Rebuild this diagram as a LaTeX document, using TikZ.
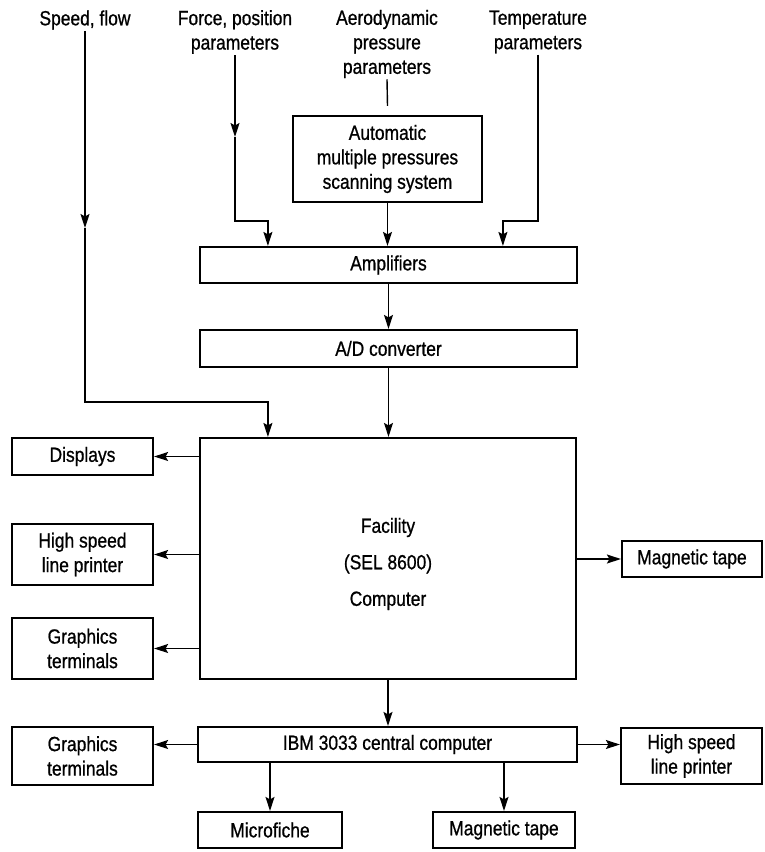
\documentclass[tikz,border=0pt]{standalone}
\usepackage{fontspec}
\setmainfont{Liberation Sans}[FakeStretch=0.85,FakeBold=0.8]
\usetikzlibrary{arrows.meta,calc}
\begin{document}
\begin{tikzpicture}[x=1pt,y=-1pt,
  txt/.style={font=\fontsize{20.5}{24.5}\selectfont},
  box/.style={txt,draw,line width=2.2pt,inner sep=0pt,align=center},
  lbl/.style={txt,inner sep=1pt,align=center},
  conn/.style={line width=1.4pt},
  arr/.style={conn,-{Stealth[length=14pt,width=9pt,inset=2.5pt]}}]
\useasboundingbox (0,0) rectangle (764,852);
\fill[white] (0,0) rectangle (764,852);

% input labels
\node[lbl] (sf) at (85,20) {Speed, flow};
\node[lbl] (fp) at (235,32) {Force, position\\parameters};
\node[lbl] (ap) at (387,44) {Aerodynamic\\pressure\\parameters};
\node[lbl] (tp) at (538,32) {Temperature\\parameters};

% boxes
\node[box,minimum width=189pt,minimum height=86pt] (auto) at (387.5,159) {Automatic\\multiple pressures\\scanning system};
\node[box,minimum width=377pt,minimum height=36pt] (amp) at (388.5,265) {Amplifiers};
\node[box,minimum width=377pt,minimum height=37pt] (ad) at (388.5,348.5) {A/D converter};
\node[box,minimum width=376pt,minimum height=241pt] (fac) at (388,558.5) {};
\node[lbl] (factext) at (388,564) {Facility\\[12pt](SEL 8600)\\[12pt]Computer};
\node[box,minimum width=141pt,minimum height=37pt] (disp) at (82.5,456.5) {Displays};
\node[box,minimum width=141pt,minimum height=61pt] (hsp1) at (82.5,554.5) {High speed\\line printer};
\node[box,minimum width=141pt,minimum height=61pt] (gt1) at (82.5,648.5) {Graphics\\terminals};
\node[box,minimum width=140pt,minimum height=36pt] (mt1) at (692,559) {Magnetic tape};
\node[box,minimum width=379pt,minimum height=35pt] (ibm) at (387.5,744.5) {IBM 3033 central computer};
\node[box,minimum width=141pt,minimum height=58pt] (gt2) at (82.5,756) {Graphics\\terminals};
\node[box,minimum width=141pt,minimum height=56pt] (hsp2) at (691.5,756) {High speed\\line printer};
\node[box,minimum width=144pt,minimum height=36pt] (mic) at (270,830) {Microfiche};
\node[box,minimum width=142pt,minimum height=36pt] (mt2) at (504,830) {Magnetic tape};

% input connectors
\coordinate (sfm) at (85,228);
\coordinate (sft) at (85,402);
\draw[arr] (sf.south) -- (sfm);
\draw[arr] (sfm) -- (sft) -| ($(fac.north west)+(69,0)$);

\coordinate (fpm) at (235,137);
\coordinate (fpt) at (235,221);
\draw[arr] (fp.south) -- (fpm);
\draw[arr] (fpm) -- (fpt) -| ($(amp.north west)+(69,0)$);

\coordinate (tpt) at (538,221);
\draw[arr] (tp.south) -- (tpt) -| ($(amp.north west)+(304,0)$);

\draw[conn] (ap.south) -- ($(auto.north)+(0,-9)$);

% main chain
\draw[arr] (auto.south) -- (auto.south |- amp.north);
\draw[arr] (amp.south) -- (ad.north);
\draw[arr] (ad.south) -- (ad.south |- fac.north);

% facility outputs
\draw[arr] (fac.west |- disp.east) -- (disp.east);
\draw[arr] (fac.west |- hsp1.east) -- (hsp1.east);
\draw[arr] (fac.west |- gt1.east) -- (gt1.east);
\draw[arr] (fac.east |- mt1.west) -- (mt1.west);
\draw[arr] (fac.south) -- (fac.south |- ibm.north);

% IBM outputs
\draw[arr] (ibm.west) -- (ibm.west -| gt2.east);
\draw[arr] (ibm.east) -- (ibm.east -| hsp2.west);
\draw[arr] (mic.north |- ibm.south) -- (mic.north);
\draw[arr] (mt2.north |- ibm.south) -- (mt2.north);
\end{tikzpicture}
\end{document}
